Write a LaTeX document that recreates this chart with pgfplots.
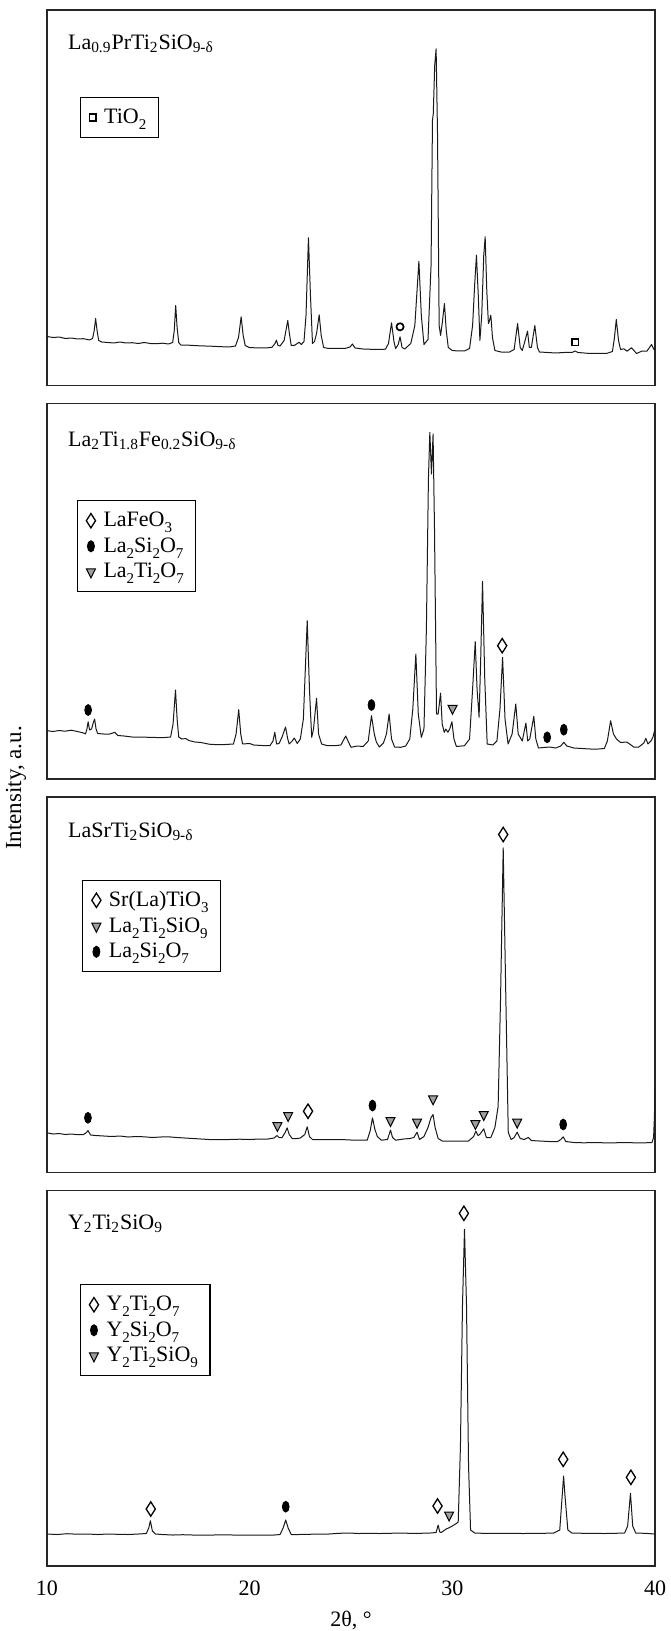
\documentclass[border=0pt]{standalone}
\usepackage{fontspec}
\setmainfont{Liberation Serif}
\usepackage{pgfplots}
\pgfplotsset{compat=1.18}

\newcommand{\ls}[1]{\raisebox{-0.6ex}{\fontsize{7.5}{8}\selectfont #1}}
\newcommand{\ts}[1]{\textsubscript{#1}}

\tikzset{ttl/.style={anchor=west, inner sep=0pt, font=\fontsize{11}{13}\selectfont}}
\pgfplotsset{
  xrdpanel/.style={
    scale only axis, width=304pt, height=187.75pt,
    xmin=10, xmax=40, ymin=0, ymax=375.5,
    ytick=\empty, xtick={10,20,30,40}, xticklabels={},
    major tick length=0pt,
    axis line style={line width=0.55pt, black!85},
    legend cell align=left,
    legend image code/.code={\draw[##1] plot coordinates {(0pt,0pt)};},
    legend style={draw=black, line width=0.55pt, fill=white, inner xsep=4.5pt, inner ysep=4pt,
      row sep=1pt, font=\fontsize{11}{12}\selectfont, anchor=north west,
      nodes={inner sep=1.5pt},
      /tikz/every odd column/.style={column sep=2.5pt}},
  },
  curve/.style={black!90, line width=0.5pt, no marks, line join=round, forget plot},
  dia/.style={only marks, mark=diamond, mark size=3.6pt, mark options={draw=black, fill=white, line width=0.65pt, xscale=0.85}},
  dot/.style={only marks, mark=*, mark size=1.7pt, mark options={draw=black, fill=black, yscale=1.6}},
  tri/.style={only marks, mark=triangle*, mark size=2.6pt, mark options={draw=black, fill=gray!75, line width=0.5pt, rotate=180, yscale=1.15}},
  ocirc/.style={only marks, mark=o, mark size=1.8pt, mark options={draw=black, line width=0.85pt}},
  osq/.style={only marks, mark=square, mark size=1.7pt, mark options={draw=black, line width=0.85pt}},
}

\begin{document}
\begin{tikzpicture}
% ---------------- Panel 1 ----------------
\begin{axis}[xrdpanel, name=p1, at={(0pt,0pt)}, anchor=north west,
  legend style={at={(axis description cs:0.054,0.768)}}]
\addplot[curve] table {
10.00 49
10.3 48
10.6 48.5
10.9 47
11.2 47.5
11.5 46.5
11.8 46.8
12.1 45.5
12.25 47
12.33 55
12.40 67
12.47 55
12.55 45
12.7 43.5
13.0 43
13.3 42.5
13.6 43.5
13.9 42.5
14.2 42.8
14.5 42
14.8 43
15.1 42
15.4 41.8
15.7 42.3
16.0 41.5
16.2 43
16.28 55
16.35 80
16.42 58
16.5 43
16.6 40.5
17.0 40.3
17.4 39.8
17.8 39.5
18.2 39.2
18.6 38.8
19.0 38.5
19.3 39.5
19.45 48
19.58 68.7
19.68 50
19.78 40
20.0 37.8
20.4 37.7
20.8 37.5
21.1 38.2
21.25 42
21.32 45.3
21.40 40
21.5 39.5
21.7 45
21.8 56
21.88 65
21.96 52
22.05 40
22.2 40
22.35 42
22.44 43.3
22.55 41
22.68 44
22.78 70
22.90 147.7
23.0 90
23.10 42
23.2 44
23.3 52
23.43 70.7
23.53 50
23.65 38
23.9 37
24.3 37
24.7 37
24.95 38.5
25.07 41.5
25.2 37.5
25.6 36.5
26.0 36.2
26.4 36
26.7 36.3
26.85 42
27.0 62.7
27.12 44
27.2 37
27.33 41
27.42 48.7
27.52 38
27.65 36.5
27.95 42
28.15 60
28.35 124.3
28.47 70
28.6 41
28.8 46
28.95 120
29.02 265
29.06 272
29.13 320
29.20 336.7
29.27 250
29.35 60
29.42 50
29.5 62
29.61 82
29.7 55
29.8 38
30.0 35
30.3 34.5
30.6 34.5
30.85 37
31.0 60
31.1 100
31.19 130.3
31.28 90
31.36 45
31.45 70
31.55 130
31.62 148.7
31.7 95
31.78 62
31.82 64
31.9 70.3
31.98 48
32.1 35
32.4 33.5
32.8 33.3
33.05 36
33.22 62
33.35 38
33.45 35
33.55 42
33.71 54.3
33.8 38
33.9 38
34.07 60
34.2 38
34.3 33.5
34.7 33
35.1 32.5
35.5 33
35.9 33
36.06 34.5
36.2 33
36.5 32.5
36.8 32
37.2 32.2
37.6 32
37.9 34
38.0 48
38.09 66
38.2 45
38.3 36
38.46 36.7
38.62 34.3
38.84 37.7
39.09 32
39.34 34.3
39.6 34.3
39.83 41
39.95 36
40.0 36.5
};
\addplot[ocirc, forget plot] coordinates {(27.42,58.7)};
\addplot[osq, forget plot] coordinates {(36.06,43.3)};
\addlegendimage{osq}
\addlegendentry{TiO\ls{2}}
\node[ttl] at (rel axis cs:0.034,0.909) {La\ts{0.9}PrTi\ts{2}SiO\ts{9-δ}};
\end{axis}

% ---------------- Panel 2 ----------------
\begin{axis}[xrdpanel, name=p2, at={(0pt,-196.75pt)}, anchor=north west,
  legend style={at={(axis description cs:0.049,0.742)}}]
\addplot[curve] table {
10.0 48.3
10.3 47.5
10.6 48.5
10.9 47.8
11.2 48.8
11.5 47.5
11.8 46
11.9 45
11.97 50
12.03 57.3
12.1 49
12.2 50
12.28 56
12.35 60
12.42 50
12.5 45.5
12.8 45
13.1 45
13.34 46.7
13.5 43.5
13.8 43
14.2 42
14.6 42
15.0 41.7
15.4 41.5
15.8 41.5
16.1 42
16.22 55
16.34 89
16.42 60
16.5 42
16.65 40
16.85 40.5
17.0 38.5
17.3 37
17.6 36.5
18.0 34.8
18.4 34.3
18.8 34.5
19.2 35
19.33 45
19.46 69.3
19.56 45
19.65 35
20.0 35.5
20.2 34
20.6 33.5
21.0 33.3
21.15 38
21.24 46.7
21.33 35
21.45 35.5
21.6 42
21.77 52
21.88 40
21.95 35
22.1 38
22.2 41
22.35 35.5
22.5 40
22.65 60
22.84 158.3
22.95 90
23.06 41.7
23.15 50
23.3 80.7
23.4 45
23.55 35
23.8 33.5
24.2 33.3
24.5 34
24.74 43
24.9 36
25.0 31.7
25.3 33
25.6 32.5
25.85 38
26.01 63.3
26.15 45
26.25 37
26.4 32
26.6 36
26.75 45
26.88 65
27.0 40
27.15 32
27.45 31.7
27.7 33
27.9 40
28.05 70
28.20 125
28.32 65
28.47 41.7
28.6 50
28.72 150
28.82 300
28.89 346.7
28.97 305
29.05 345
29.12 250
29.22 65
29.3 65
29.42 86
29.5 55
29.6 46.7
29.68 50
29.78 46.7
29.87 50
29.98 57.3
30.08 40
30.2 32.5
30.6 33.3
30.85 40
31.0 90
31.13 137.3
31.22 90
31.32 61.7
31.4 120
31.49 197.7
31.6 100
31.72 35
32.0 34
32.2 38
32.35 70
32.48 121.7
32.6 60
32.75 35
32.95 45
33.13 75
33.25 45
33.45 38
33.63 56
33.72 38
33.82 40
34.02 62.7
34.12 40
34.25 31
34.5 31.5
34.8 32
35.1 31
35.35 33
35.5 36.7
35.65 33
36.0 31
36.4 30.5
36.8 30
37.2 30
37.5 30.5
37.65 38
37.81 58.3
37.95 45
38.1 40
38.3 36.5
38.6 37
38.75 35
38.95 32
39.2 32
39.45 36
39.55 40.7
39.65 35
39.8 38
39.9 42
40.0 50
};
\addplot[dot, forget plot] coordinates {(12.03,69) (26.01,74) (34.68,41.7) (35.5,49.3)};
\addplot[tri, forget plot] coordinates {(30.01,70.7)};
\addplot[dia, forget plot] coordinates {(32.46,133.3)};
\addlegendimage{dia}
\addlegendentry{LaFeO\ls{3}}
\addlegendimage{dot}
\addlegendentry{La\ls{2}Si\ls{2}O\ls{7}}
\addlegendimage{tri}
\addlegendentry{La\ls{2}Ti\ls{2}O\ls{7}}
\node[ttl] at (rel axis cs:0.034,0.901) {La\ts{2}Ti\ts{1.8}Fe\ts{0.2}SiO\ts{9-δ}};
\end{axis}

% ---------------- Panel 3 ----------------
\begin{axis}[xrdpanel, name=p3, at={(0pt,-393.5pt)}, anchor=north west,
  legend style={at={(axis description cs:0.058,0.780)}}]
\addplot[curve] table {
10.0 39.7
10.3 38.5
10.6 39
10.9 38
11.2 38.5
11.5 37.8
11.8 38
11.95 40
12.02 42
12.15 37.5
12.4 37
12.8 36.5
13.2 36
13.6 36.5
14.0 35.5
14.4 36
14.8 35.7
15.2 35
15.6 35.5
16.0 35.7
16.4 35
16.8 34.5
17.2 34
17.6 33.5
18.0 33
18.5 33
19.0 33
19.5 33.3
20.0 33
20.5 33.5
20.9 33.5
21.2 34.5
21.35 37
21.45 35
21.6 35
21.75 40
21.85 44.7
21.95 38
22.1 34
22.35 34
22.5 34.5
22.72 38
22.84 45.7
22.95 36
23.1 33
23.5 33
24.0 33
24.5 33
25.0 32.5
25.5 32.5
25.8 32.3
25.95 42
26.06 54.7
26.18 43
26.3 36
26.5 32.3
26.8 33
26.95 42.3
27.05 35
27.2 32.3
27.6 33.5
27.9 34
28.1 35
28.26 40.3
28.38 33
28.6 36
28.8 45
28.95 55
29.05 58
29.15 45
29.3 34
29.5 31.5
30.0 31.3
30.5 31.3
30.8 31.5
31.05 36
31.16 41.3
31.27 37
31.35 38
31.55 43.7
31.68 35
31.9 35
32.1 45
32.26 66
32.38 175
32.51 324.7
32.64 175
32.76 40
32.9 33
33.05 35
33.2 40.3
33.35 34
33.55 33
33.75 35
33.9 32
34.3 31.5
34.8 31
35.2 31
35.35 33
35.47 35.7
35.6 31
36.0 30
36.5 29.7
37.0 30
37.5 29.7
38.0 29.7
38.5 30
39.0 29.7
39.5 29.7
39.85 30
39.93 35
39.97 55
40.0 83
};
\addplot[dot, forget plot] coordinates {(12.02,54.7) (26.06,67) (35.47,48)};
\addplot[tri, forget plot] coordinates {(21.37,47) (21.9,57) (26.95,52) (28.26,50.3) (29.05,73.7) (31.14,49) (31.55,58) (33.2,50.3)};
\addplot[dia, forget plot] coordinates {(22.88,61.3) (32.51,338)};
\addlegendimage{dia}
\addlegendentry{Sr(La)TiO\ls{3}}
\addlegendimage{tri}
\addlegendentry{La\ls{2}Ti\ls{2}SiO\ls{9}}
\addlegendimage{dot}
\addlegendentry{La\ls{2}Si\ls{2}O\ls{7}}
\node[ttl] at (rel axis cs:0.034,0.907) {LaSrTi\ts{2}SiO\ts{9-δ}};
\end{axis}

% ---------------- Panel 4 ----------------
\begin{axis}[xrdpanel, name=p4, at={(0pt,-590.25pt)}, anchor=north west,
  xticklabels={10,20,30,40},
  xticklabel style={anchor=base, yshift=-14.5pt, font=\fontsize{11}{13}\selectfont},
  xlabel={2θ, °},
  xlabel style={at={(axis description cs:0.5,0)}, anchor=base, yshift=-30pt, font=\fontsize{11}{13}\selectfont},
  legend style={at={(axis description cs:0.054,0.750)}}]
\addplot[curve] table {
10.0 32
10.5 31.5
11.0 32.3
11.5 31.8
12.0 32
12.5 31.5
13.0 32
13.5 31.7
14.0 31.5
14.5 32
14.9 32.5
15.02 38
15.1 45.3
15.2 35
15.35 32
15.7 31.5
16.2 31
16.7 31.3
17.2 31
17.7 30.8
18.2 31
18.7 31.2
19.2 31
19.7 30.8
20.2 31
20.7 31
21.2 31
21.5 31.5
21.65 38
21.78 46
21.9 38
22.05 31.5
22.4 31.5
22.9 31.7
23.4 32
23.9 32
24.4 32.7
24.9 33
25.4 32.5
25.9 32.7
26.4 32.5
26.9 32.7
27.4 33
27.9 32.7
28.4 32.7
28.9 33
29.2 33.5
29.3 41
29.38 34
29.45 33.5
29.7 37
29.88 38.7
30.0 40
30.21 42.7
30.29 44
30.4 120
30.5 260
30.6 336.7
30.7 260
30.8 100
30.9 36
31.1 33
31.5 32.7
32.0 32.7
32.5 32.7
33.0 32.7
33.5 32.5
34.0 32.7
34.5 32.7
35.0 33
35.3 36
35.42 70
35.49 90
35.56 70
35.7 36
35.9 33
36.5 32.7
37.0 32.7
37.5 32.5
38.0 32.7
38.5 33
38.65 40
38.79 72.7
38.9 40
39.05 33
39.5 32.7
40.0 32
};
\addplot[dia, forget plot] coordinates {(15.12,57) (29.27,60) (30.57,352.7) (35.47,106.7) (38.81,88.7)};
\addplot[dot, forget plot] coordinates {(21.78,59.3)};
\addplot[tri, forget plot] coordinates {(29.84,51)};
\addlegendimage{dia}
\addlegendentry{Y\ls{2}Ti\ls{2}O\ls{7}}
\addlegendimage{dot}
\addlegendentry{Y\ls{2}Si\ls{2}O\ls{7}}
\addlegendimage{tri}
\addlegendentry{Y\ls{2}Ti\ls{2}SiO\ls{9}}
\node[ttl] at (rel axis cs:0.034,0.912) {Y\ts{2}Ti\ts{2}SiO\ts{9}};
\end{axis}

\node[rotate=90, anchor=center, inner sep=0pt, font=\fontsize{11.5}{13}\selectfont] at (-15.5pt,-389pt) {Intensity, a.u.};

\pgfresetboundingbox
\path[use as bounding box] (-23.5pt,5pt) rectangle (311.5pt,-810.5pt);
\end{tikzpicture}
\end{document}
